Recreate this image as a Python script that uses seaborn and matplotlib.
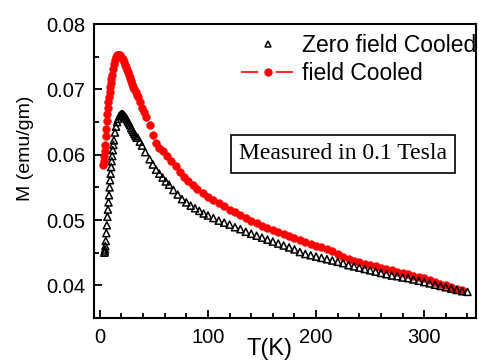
import numpy as np
import pandas as pd
import seaborn as sns
import matplotlib
matplotlib.use("Agg")
import matplotlib.pyplot as plt
from matplotlib.lines import Line2D
from matplotlib.ticker import MultipleLocator

# Zero field cooled (ZFC) data
zfc_T = [4.2, 4.5, 4.8, 5.1, 5.5, 6.0, 6.5, 7.0, 7.5, 8.0, 8.5, 9.0, 9.5, 10.0,
         10.5, 11.0, 11.5, 12.0, 12.5, 13.0, 14.0, 15.0, 16.0, 17.0, 18.0, 19.0,
         20.0, 21.0, 22.0, 23.0, 24.0, 25.0, 26.0, 27.0, 28.0, 29.0, 30.0, 31.0,
         32.0, 33.0, 34.0, 35.0, 37.0, 39.0, 42.0, 46.0, 49.0, 52.0, 55.0, 58.0,
         61.0, 64.0, 68.0, 72.0, 76.0, 80.0, 84.0, 88.0, 92.0, 96.0, 100.0,
         105.0, 110.0, 115.0, 120.0, 125.0, 130.0, 135.0, 140.0, 145.0, 150.0,
         155.0, 160.0, 165.0, 170.0, 175.0, 180.0, 185.0, 190.0, 195.0, 200.0,
         205.0, 210.0, 215.0, 220.0, 225.0, 230.0, 235.0, 240.0, 245.0, 250.0,
         255.0, 260.0, 265.0, 270.0, 275.0, 280.0, 285.0, 290.0, 295.0, 300.0,
         305.0, 310.0, 315.0, 320.0, 325.0, 330.0, 335.0, 340.0]
zfc_M = [0.0450, 0.0452, 0.0455, 0.0460, 0.0468, 0.0480, 0.0492, 0.0505, 0.0516,
         0.0527, 0.0538, 0.0550, 0.0561, 0.0571, 0.0581, 0.0590, 0.0598, 0.0607,
         0.0615, 0.0622, 0.0634, 0.0643, 0.0650, 0.0655, 0.0659, 0.0661, 0.0662,
         0.0662, 0.0661, 0.0659, 0.0657, 0.0654, 0.0651, 0.0648, 0.0645, 0.0641,
         0.0638, 0.0635, 0.0632, 0.0629, 0.0626, 0.0626, 0.0620, 0.0614, 0.0604,
         0.0593, 0.0585, 0.0577, 0.0571, 0.0565, 0.0559, 0.0554, 0.0546, 0.0539,
         0.0532, 0.0527, 0.0522, 0.0518, 0.0514, 0.0510, 0.0507, 0.0503, 0.0499,
         0.0496, 0.0493, 0.0489, 0.0486, 0.0482, 0.0479, 0.0476, 0.0473, 0.0470,
         0.0467, 0.0464, 0.0461, 0.0458, 0.0455, 0.0451, 0.0448, 0.0446, 0.0444,
         0.0442, 0.0440, 0.0438, 0.0436, 0.0434, 0.0431, 0.0429, 0.0427, 0.0425,
         0.0423, 0.0421, 0.0419, 0.0417, 0.0415, 0.0414, 0.0412, 0.0411, 0.0409,
         0.0407, 0.0405, 0.0403, 0.0401, 0.0399, 0.0397, 0.0395, 0.0393, 0.0391,
         0.0390]

# Field cooled (FC) data
fc_T = [3.0, 3.5, 4.0, 4.5, 5.0, 5.5, 6.0, 6.5, 7.0, 7.5, 8.0, 8.5, 9.0, 9.5,
        10.0, 10.5, 11.0, 12.0, 13.0, 14.0, 15.0, 16.0, 17.0, 18.0, 19.0, 20.0,
        21.0, 22.0, 23.0, 24.0, 25.0, 26.0, 27.0, 28.0, 29.0, 30.0, 31.0, 32.0,
        33.0, 34.0, 35.0, 37.0, 39.0, 41.0, 43.0, 46.0, 49.0, 52.0, 55.0, 58.0,
        62.0, 66.0, 70.0, 74.0, 78.0, 82.0, 86.0, 90.0, 95.0, 100.0, 105.0,
        110.0, 115.0, 120.0, 125.0, 130.0, 135.0, 140.0, 145.0, 150.0, 155.0,
        160.0, 165.0, 170.0, 175.0, 180.0, 185.0, 190.0, 195.0, 200.0, 205.0,
        210.0, 215.0, 220.0, 225.0, 230.0, 235.0, 240.0, 245.0, 250.0, 255.0,
        260.0, 265.0, 270.0, 275.0, 280.0, 285.0, 290.0, 295.0, 300.0, 305.0,
        310.0, 315.0, 320.0, 325.0, 330.0, 335.0]
fc_M = [0.0584, 0.0590, 0.0598, 0.0605, 0.0615, 0.0628, 0.0640, 0.0651, 0.0662,
        0.0671, 0.0680, 0.0688, 0.0696, 0.0703, 0.0710, 0.0716, 0.0722, 0.0731,
        0.0739, 0.0745, 0.0749, 0.0752, 0.0753, 0.0753, 0.0752, 0.0749, 0.0746,
        0.0742, 0.0738, 0.0734, 0.0730, 0.0726, 0.0722, 0.0717, 0.0713, 0.0708,
        0.0704, 0.0700, 0.0696, 0.0692, 0.0688, 0.0680, 0.0672, 0.0665, 0.0658,
        0.0645, 0.0630, 0.0618, 0.0611, 0.0605, 0.0598, 0.0591, 0.0582, 0.0574,
        0.0566, 0.0559, 0.0553, 0.0548, 0.0542, 0.0536, 0.0531, 0.0526, 0.0521,
        0.0516, 0.0512, 0.0508, 0.0503, 0.0499, 0.0495, 0.0491, 0.0488, 0.0485,
        0.0482, 0.0479, 0.0476, 0.0473, 0.0470, 0.0467, 0.0464, 0.0461, 0.0458,
        0.0455, 0.0452, 0.0448, 0.0444, 0.0441, 0.0438, 0.0435, 0.0433, 0.0431,
        0.0429, 0.0427, 0.0425, 0.0423, 0.0421, 0.0419, 0.0417, 0.0415, 0.0413,
        0.0411, 0.0408, 0.0405, 0.0402, 0.0400, 0.0398, 0.0395, 0.0393]

x_ticks = [0, 100, 200, 300]
y_ticks = [0.04, 0.05, 0.06, 0.07, 0.08]

zfc = pd.DataFrame({"T": zfc_T, "M": zfc_M})
fc = pd.DataFrame({"T": fc_T, "M": fc_M})

sns.set_style("ticks")
plt.rcParams['font.family'] = ['Liberation Sans', 'DejaVu Sans']
plt.rcParams['text.color'] = 'black'
plt.rcParams['axes.labelcolor'] = 'black'
plt.rcParams['xtick.color'] = 'black'
plt.rcParams['ytick.color'] = 'black'

fig = plt.figure(figsize=(4.79, 3.62), dpi=100)
ax = fig.add_axes([0.196, 0.1215, 0.798, 0.812])

sns.scatterplot(data=fc, x="T", y="M", ax=ax, marker="o", s=32,
                color="red", edgecolor="red", linewidth=0.3, zorder=2)
sns.scatterplot(data=zfc, x="T", y="M", ax=ax, marker="^", s=26,
                facecolor="none", edgecolor="black", linewidth=1.1, zorder=3)

ax.set_xlim(-5.5, 348)
ax.set_ylim(0.035, 0.08)
ax.set_xticks(x_ticks)
ax.set_yticks(y_ticks)
ax.set_yticklabels(["%.2f" % v for v in y_ticks])
ax.xaxis.set_minor_locator(MultipleLocator(20))
ax.yaxis.set_minor_locator(MultipleLocator(0.005))
ax.tick_params(which="both", direction="in", top=False, right=False,
               labelsize=14.5, width=1.3, colors="black")
ax.tick_params(axis="x", pad=7)
ax.tick_params(axis="y", pad=6)
ax.tick_params(which="major", length=6)
ax.tick_params(which="minor", length=3.5)
for sp in ax.spines.values():
    sp.set_linewidth(1.5)
    sp.set_color("black")

ax.set_xlabel("T(K)", fontsize=17, va="bottom")
ax.xaxis.set_label_coords(0.46, -0.142)
ax.set_ylabel("M (emu/gm)", fontsize=14, va="center")
ax.yaxis.set_label_coords(-0.18, 0.578)

# legend handles: open triangle, and red dash-dot-dash with filled circle
handles = [
    Line2D([], [], marker="^", linestyle="none", markersize=5,
           markerfacecolor="none", markeredgecolor="black", markeredgewidth=1.1),
    Line2D([], [], marker="o", color="red", linewidth=1.2, markersize=5,
           dashes=(10.4, 10.4)),
]
ax.legend(handles, ["Zero field Cooled", "field Cooled"], loc="upper right",
          bbox_to_anchor=(1.0, 0.965), frameon=False, fontsize=16.5,
          handlelength=2.3, handletextpad=0.35, labelspacing=0.2,
          borderpad=0, borderaxespad=0)

ax.text(0.652, 0.558, "Measured in 0.1 Tesla", transform=ax.transAxes,
        ha="center", va="center", fontsize=17, family="Liberation Serif",
        bbox=dict(boxstyle="square,pad=0.35", facecolor="white",
                  edgecolor="black", linewidth=1.2))

fig.savefig("out.png", dpi=100)
